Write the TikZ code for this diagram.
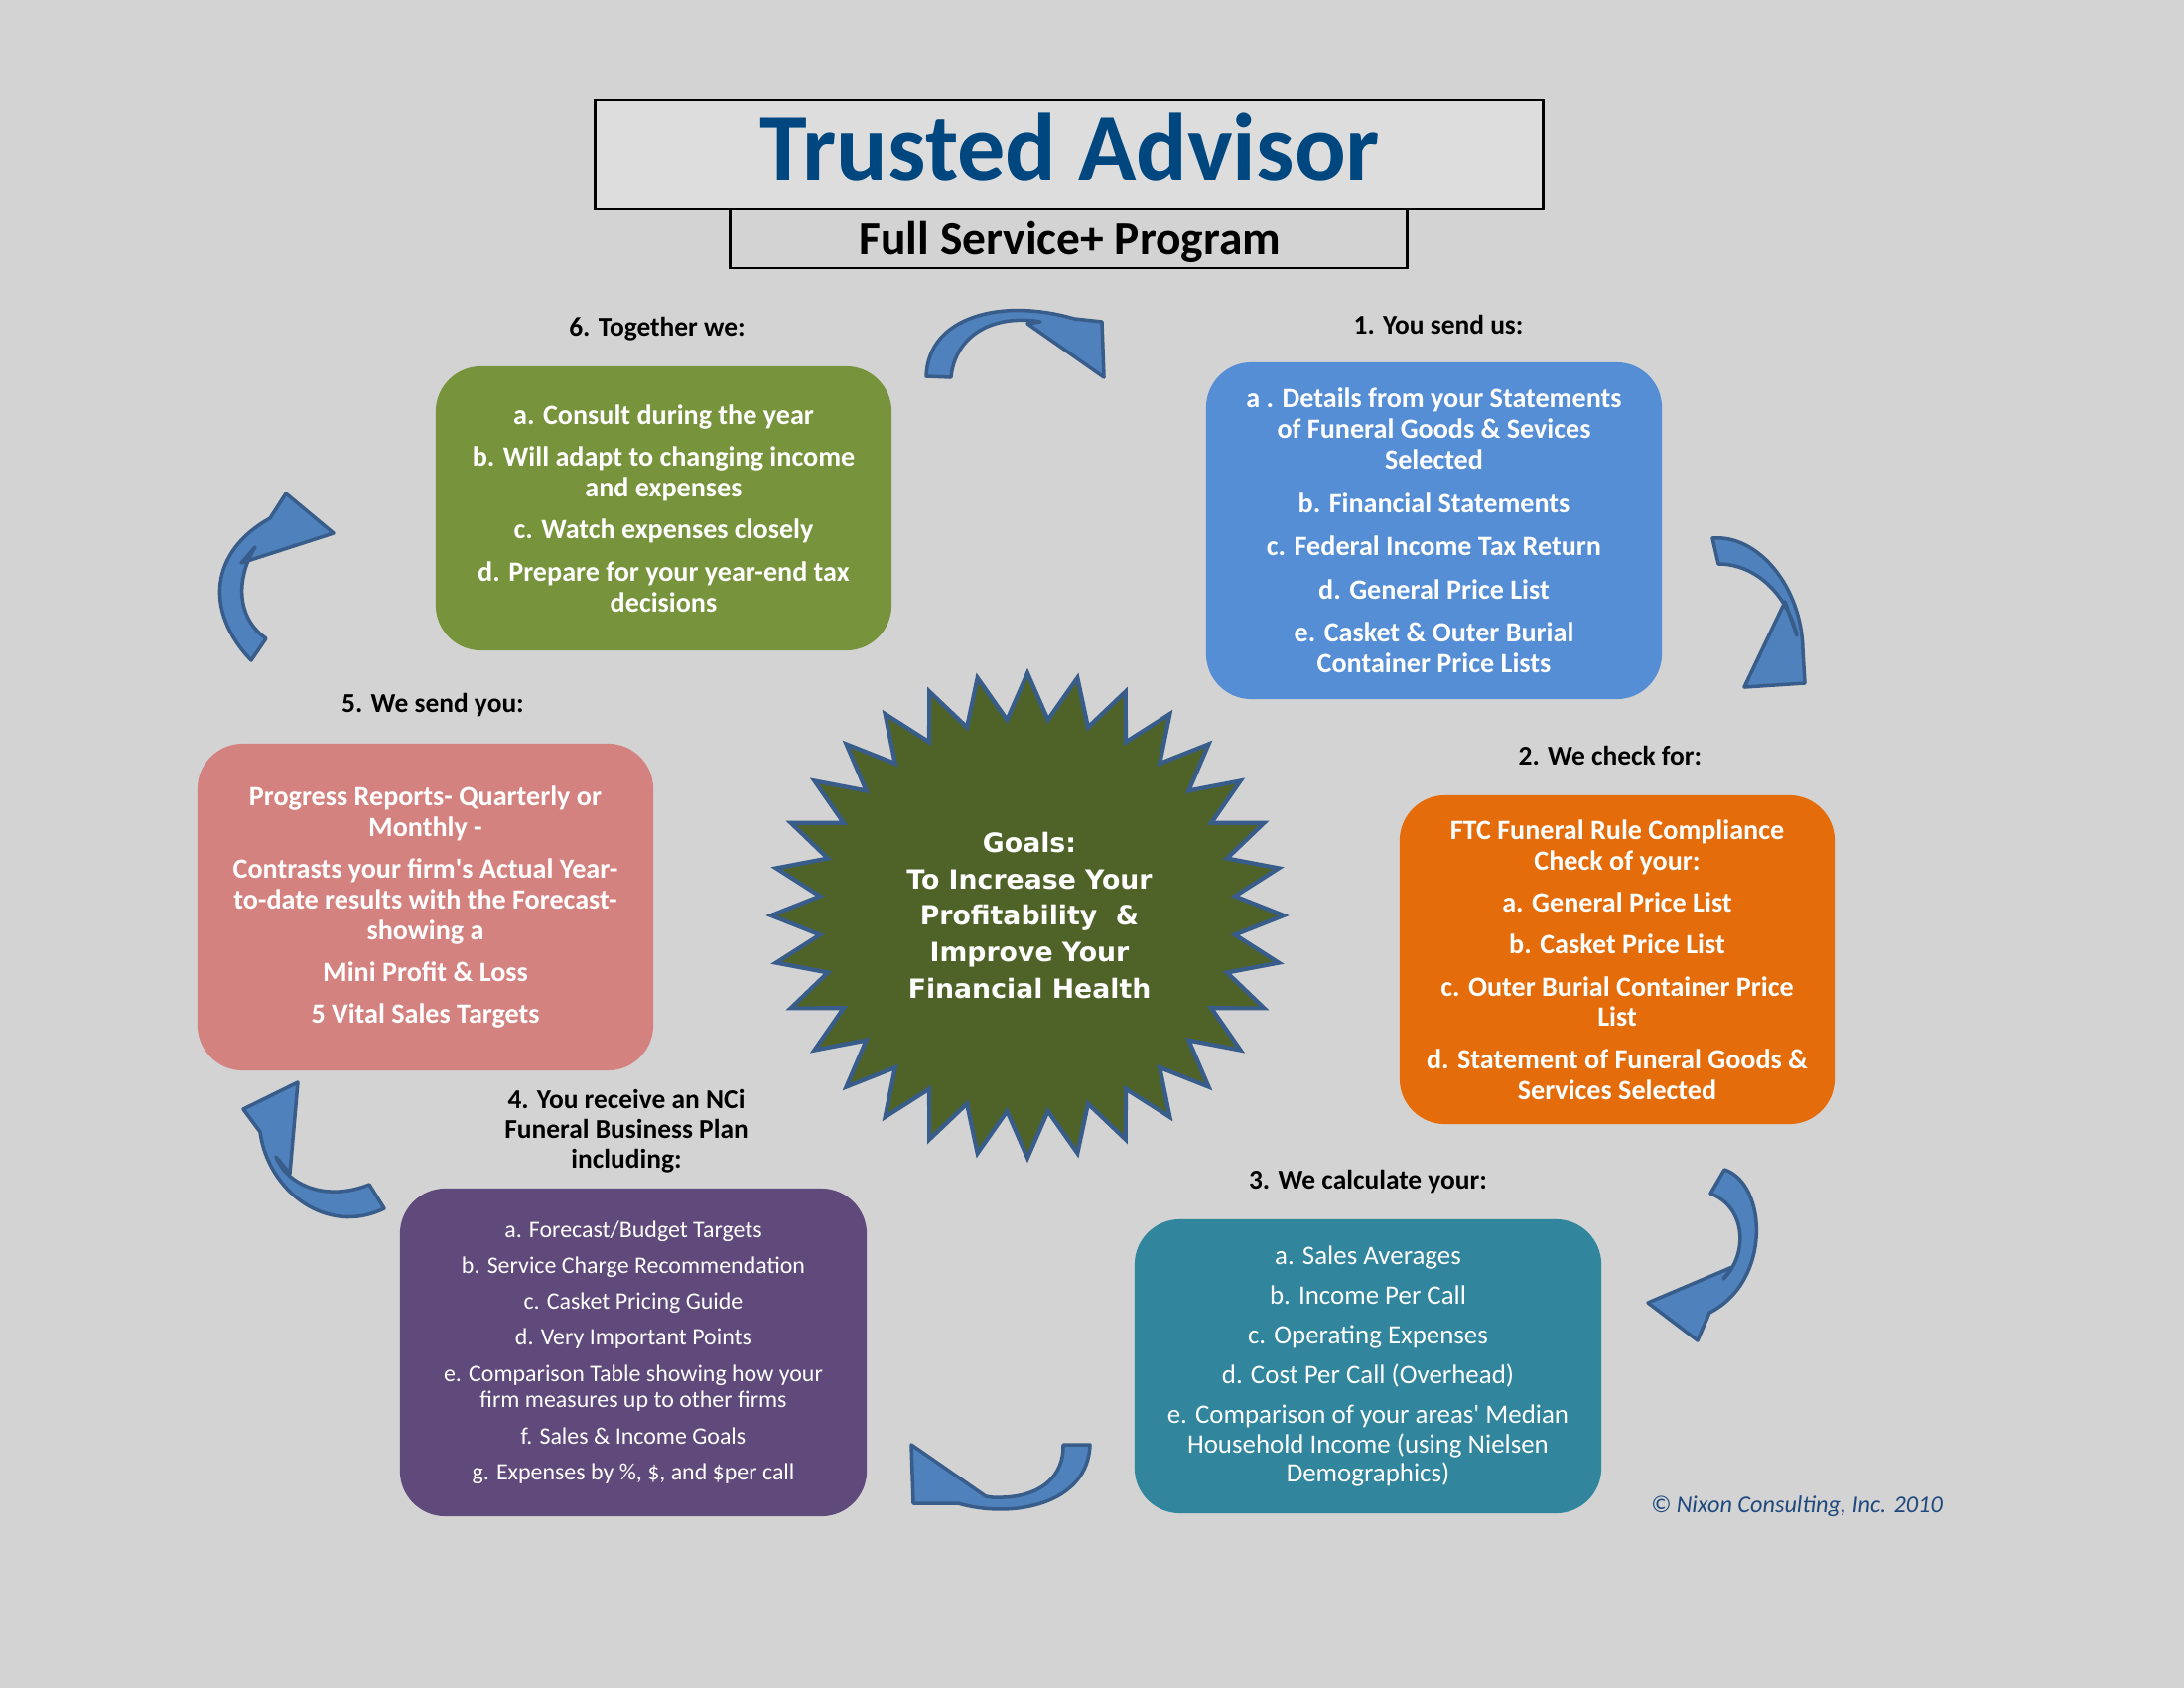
\documentclass[tikz,border=0pt]{standalone}
\usepackage{fontspec}
\setmainfont{Carlito}
\newfontfamily\goalfont{DejaVu Sans}
\definecolor{pagegray}{RGB}{211,211,211}
\definecolor{titlefill}{RGB}{221,221,221}
\definecolor{titleblue}{RGB}{0,70,127}
\definecolor{boxgreen}{RGB}{119,147,60}
\definecolor{boxblue}{RGB}{85,142,213}
\definecolor{boxorange}{RGB}{228,108,10}
\definecolor{boxteal}{RGB}{49,133,156}
\definecolor{boxpurple}{RGB}{96,74,123}
\definecolor{boxpink}{RGB}{212,130,128}
\definecolor{starfill}{RGB}{79,98,40}
\definecolor{arrowblue}{RGB}{79,129,189}
\definecolor{arrowedge}{RGB}{56,93,138}
\definecolor{copyblue}{RGB}{31,73,125}
\begin{document}
\begin{tikzpicture}[x=0.01cm, y=-0.01cm,
    stagebox/.style={rounded corners=13pt, inner sep=0pt, align=center, text=white,
      font=\bfseries\fontsize{8}{8.8}\selectfont},
    steplabel/.style={anchor=base, align=center, font=\bfseries\fontsize{7.8}{8.6}\selectfont},
    bentarrow/.style={fill=arrowblue, draw=arrowedge, line width=1pt, line join=round},
    goalstar/.style={fill=starfill, draw=arrowedge, line width=1.2pt}]
  \useasboundingbox (0,0) rectangle (2200,1700);
  \fill[pagegray] (0,0) rectangle (2200,1700);

  \node[draw, line width=0.8pt, fill=titlefill, minimum width=9.55cm, minimum height=1.09cm, inner sep=0pt] (titlebox) at (1077,155.5) {};
  \node[draw, line width=0.8pt, minimum width=6.81cm, minimum height=0.60cm, inner sep=0pt] (subtitlebox) at (1076.5,240) {};
  \node[anchor=base, text=titleblue, font=\bfseries\fontsize{27.4}{30}\selectfont] (title) at (1078,182) {Trusted Advisor};
  \node[anchor=base, font=\bfseries\fontsize{13.5}{15}\selectfont] (subtitle) at (1078,256) {Full Service+ Program};

  \node[steplabel] (together-label) at (662,338) {6. Together we:};
  \node[steplabel] (sendus-label) at (1449,337) {1. You send us:};
  \node[steplabel] (checkfor-label) at (1622,770) {2. We check for:};
  \node[steplabel] (calculate-label) at (1378,1197) {3. We calculate your:};
  \node[steplabel, anchor=center] (receive-label) at (631,1139) {4. You receive an NCi\\Funeral Business Plan\\including:};
  \node[steplabel] (sendyou-label) at (436,717) {5. We send you:};

  \node[stagebox, fill=boxgreen, minimum width=4.59cm, minimum height=2.86cm] (together) at (668.5,512)
    {a. Consult during the year\\[3.2pt]
     b. Will adapt to changing income\\and expenses\\[3.2pt]
     c. Watch expenses closely\\[3.2pt]
     d. Prepare for your year-end tax\\decisions};
  \node[stagebox, fill=boxblue, minimum width=4.59cm, minimum height=3.39cm] (sendus) at (1444.5,534.5)
    {a . Details from your Statements\\of Funeral Goods \& Sevices\\Selected\\[3.6pt]
     b. Financial Statements\\[3.6pt]
     c. Federal Income Tax Return\\[3.6pt]
     d. General Price List\\[3.6pt]
     e. Casket \& Outer Burial\\Container Price Lists};
  \node[stagebox, fill=boxorange, minimum width=4.38cm, minimum height=3.31cm] (checkfor) at (1629,966.5)
    {FTC Funeral Rule Compliance\\Check of your:\\[3.2pt]
     a. General Price List\\[3.2pt]
     b. Casket Price List\\[3.2pt]
     c. Outer Burial Container Price\\List\\[3.2pt]
     d. Statement of Funeral Goods \&\\Services Selected};
  \node[stagebox, fill=boxteal, minimum width=4.70cm, minimum height=2.96cm,
    font=\fontsize{7.65}{8.4}\selectfont] (calculate) at (1378,1376)
    {a. Sales Averages\\[3pt]
     b. Income Per Call\\[3pt]
     c. Operating Expenses\\[3pt]
     d. Cost Per Call (Overhead)\\[3pt]
     e. Comparison of your areas\textquotesingle{} Median\\Household Income (using Nielsen\\Demographics)};
  \node[stagebox, fill=boxpurple, minimum width=4.70cm, minimum height=3.30cm,
    font=\fontsize{6.8}{7.6}\selectfont] (receive) at (638,1362)
    {a. Forecast/Budget Targets\\[2.7pt]
     b. Service Charge Recommendation\\[2.7pt]
     c. Casket Pricing Guide\\[2.7pt]
     d. Very Important Points\\[2.7pt]
     e. Comparison Table showing how your\\firm measures up to other firms\\[2.7pt]
     f. Sales \& Income Goals\\[2.7pt]
     g. Expenses by \%, \$, and \$per call};
  \node[stagebox, fill=boxpink, minimum width=4.59cm, minimum height=3.29cm] (sendyou) at (428.5,913.5)
    {Progress Reports- Quarterly or\\Monthly -\\[3.2pt]
     Contrasts your firm\textquotesingle s Actual Year-\\to-date results with the Forecast-\\showing a\\[3.2pt]
     Mini Profit \& Loss\\[3.2pt]
     5 Vital Sales Targets};

  \begin{scope}[shift={(1035,922)}]
    \draw[goalstar] (0:258 and 244)
      \foreach \k in {0,...,30} {-- ({\k*11.25+5.625}:210 and 198) -- ({\k*11.25+11.25}:258 and 244)}
      -- (354.375:210 and 198) -- cycle;
  \end{scope}
  \node[text=white, align=center, font=\goalfont\bfseries\fontsize{7.6}{10.4}\selectfont] (goals) at (1037,922)
    {Goals:\\To Increase Your\\Profitability \ \&\\Improve Your\\Financial Health};

  \draw[bentarrow] (933,379) .. controls (935,318) and (1010,300) .. (1082,321) -- (1110,324) -- (1112,380)
    -- (1035,326) -- (1048,324) .. controls (1000,316) and (962,338) .. (958,380) -- cycle;
  \draw[bentarrow] (1725,542) .. controls (1770,538) and (1815,590) .. (1816,655) -- (1818,688) -- (1757,692)
    -- (1798,606) -- (1810,640) .. controls (1800,598) and (1768,568) .. (1731,568) -- cycle;
  \draw[bentarrow] (1737,1178) .. controls (1780,1192) and (1785,1290) .. (1722,1322) -- (1710,1350) -- (1660,1312)
    -- (1745,1276) -- (1736,1288) .. controls (1762,1262) and (1758,1215) .. (1723,1202) -- cycle;
  \draw[bentarrow] (1098,1455) .. controls (1096,1515) and (1020,1530) .. (965,1514) -- (920,1514) -- (918,1455)
    -- (993,1507) -- (1000,1508) .. controls (1050,1510) and (1072,1485) .. (1071,1455) -- cycle;
  \draw[bentarrow] (387,1217) .. controls (330,1245) and (270,1200) .. (262,1140) -- (245,1117) -- (300,1090)
    -- (292,1182) -- (278,1165) .. controls (290,1195) and (330,1210) .. (372,1193) -- cycle;
  \draw[bentarrow] (253,665) .. controls (205,615) and (212,555) .. (272,522) -- (288,497) -- (336,537)
    -- (243,567) -- (257,551) .. controls (240,578) and (235,620) .. (268,643) -- cycle;

  \node[anchor=base, text=copyblue, font=\itshape\fontsize{6.9}{8}\selectfont] (copyright) at (1810,1523)
    {\textcopyright{} Nixon Consulting, Inc. 2010};
\end{tikzpicture}
\end{document}
